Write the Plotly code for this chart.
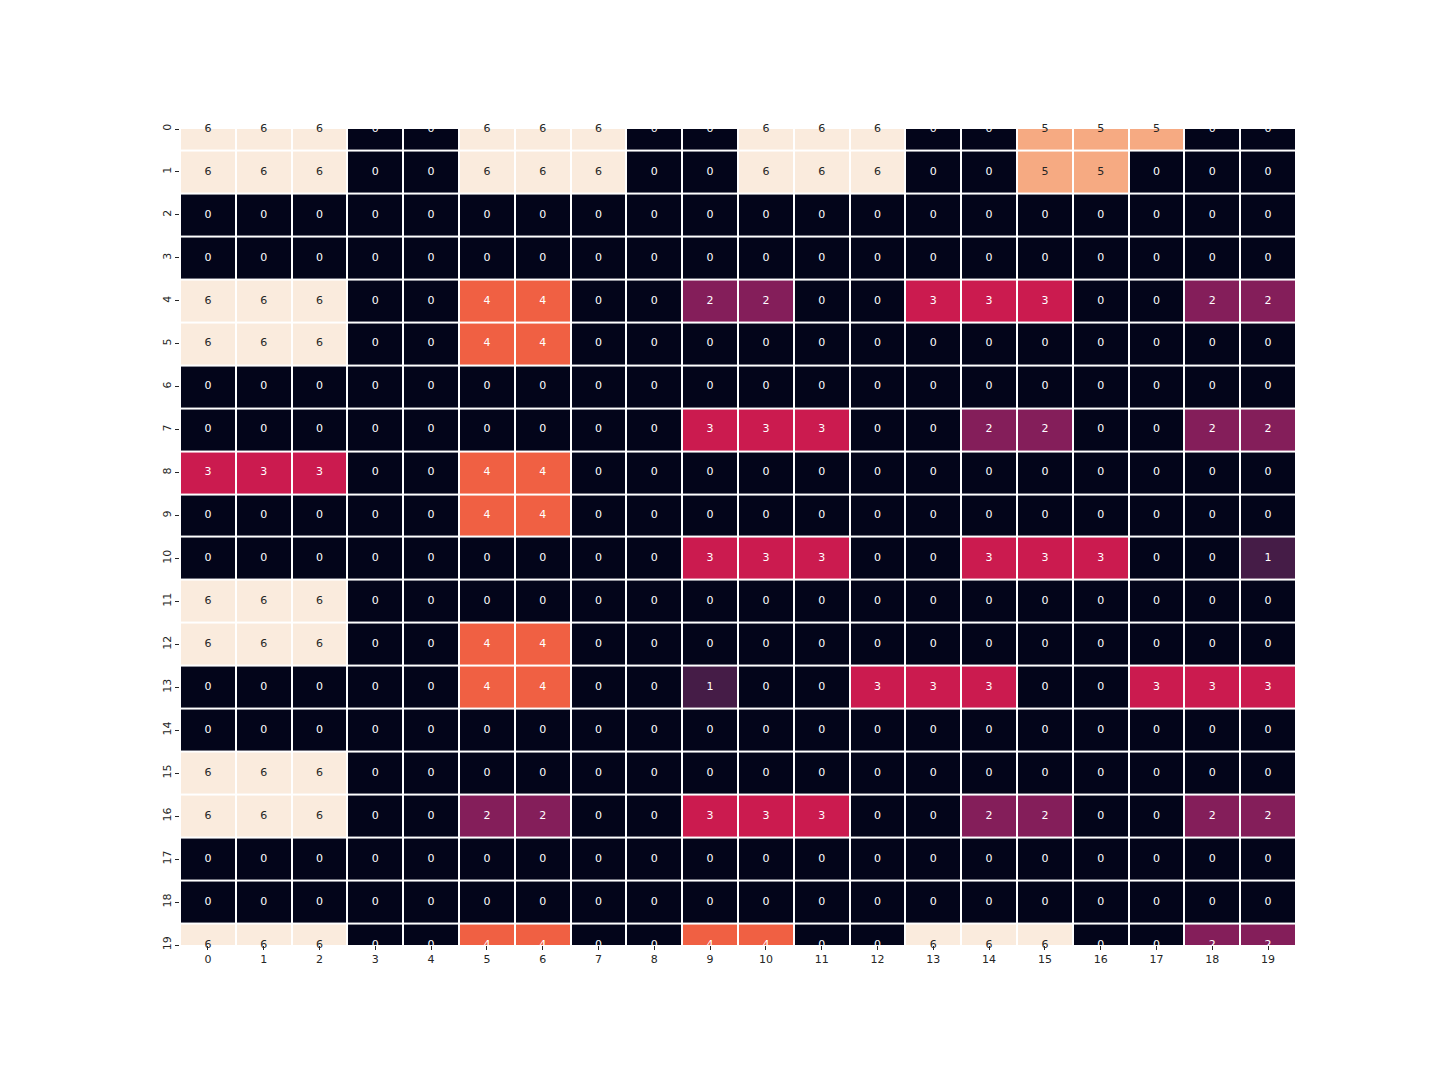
import plotly.graph_objects as go

rows = list(range(20))
cols = list(range(20))
values = [
    [6, 6, 6, 0, 0, 6, 6, 6, 0, 0, 6, 6, 6, 0, 0, 5, 5, 5, 0, 0],
    [6, 6, 6, 0, 0, 6, 6, 6, 0, 0, 6, 6, 6, 0, 0, 5, 5, 0, 0, 0],
    [0] * 20,
    [0] * 20,
    [6, 6, 6, 0, 0, 4, 4, 0, 0, 2, 2, 0, 0, 3, 3, 3, 0, 0, 2, 2],
    [6, 6, 6, 0, 0, 4, 4, 0, 0, 0, 0, 0, 0, 0, 0, 0, 0, 0, 0, 0],
    [0] * 20,
    [0, 0, 0, 0, 0, 0, 0, 0, 0, 3, 3, 3, 0, 0, 2, 2, 0, 0, 2, 2],
    [3, 3, 3, 0, 0, 4, 4, 0, 0, 0, 0, 0, 0, 0, 0, 0, 0, 0, 0, 0],
    [0, 0, 0, 0, 0, 4, 4, 0, 0, 0, 0, 0, 0, 0, 0, 0, 0, 0, 0, 0],
    [0, 0, 0, 0, 0, 0, 0, 0, 0, 3, 3, 3, 0, 0, 3, 3, 3, 0, 0, 1],
    [6, 6, 6, 0, 0, 0, 0, 0, 0, 0, 0, 0, 0, 0, 0, 0, 0, 0, 0, 0],
    [6, 6, 6, 0, 0, 4, 4, 0, 0, 0, 0, 0, 0, 0, 0, 0, 0, 0, 0, 0],
    [0, 0, 0, 0, 0, 4, 4, 0, 0, 1, 0, 0, 3, 3, 3, 0, 0, 3, 3, 3],
    [0] * 20,
    [6, 6, 6, 0, 0, 0, 0, 0, 0, 0, 0, 0, 0, 0, 0, 0, 0, 0, 0, 0],
    [6, 6, 6, 0, 0, 2, 2, 0, 0, 3, 3, 3, 0, 0, 2, 2, 0, 0, 2, 2],
    [0] * 20,
    [0] * 20,
    [6, 6, 6, 0, 0, 4, 4, 0, 0, 4, 4, 0, 0, 6, 6, 6, 0, 0, 2, 2],
]

# rocket colormap samples at 0..6
level_colors = ["#03051a", "#451c47", "#841e5a", "#cb1b4f", "#f06043", "#f6aa82", "#faebdd"]
colorscale = [[i / 6, c] for i, c in enumerate(level_colors)]

fig = go.Figure()
fig.add_trace(go.Heatmap(
    z=values, x=cols, y=rows,
    zmin=0, zmax=6, colorscale=colorscale, showscale=False,
    xgap=2, ygap=2, hoverinfo="skip",
))

tx, ty, tt, tc = [], [], [], []
for r in rows:
    for c in cols:
        v = values[r][c]
        tx.append(c)
        ty.append(r)
        tt.append(str(v))
        tc.append("#262626" if v >= 5 else "#ffffff")

fig.add_trace(go.Scatter(
    x=tx, y=ty, text=tt, mode="text",
    textfont=dict(family="DejaVu Sans", size=11, color=tc),
    textposition="middle center", cliponaxis=False, hoverinfo="skip",
    showlegend=False,
))

fig.update_layout(
    width=1440, height=1080,
    margin=dict(l=172, r=152, t=121, b=143, pad=0),
    paper_bgcolor="white", plot_bgcolor="white",
    font=dict(family="DejaVu Sans", size=11, color="#262626"),
    showlegend=False,
)
fig.update_xaxes(
    range=[-0.5, 19.5], tickmode="array", tickvals=cols, ticktext=[str(c) for c in cols],
    ticks="outside", ticklen=4, tickcolor="#262626", showgrid=False, zeroline=False,
    showline=False, tickfont=dict(size=11), side="bottom",
)
fig.update_yaxes(
    range=[19, 0], tickmode="array", tickvals=rows, ticktext=[str(r) for r in rows],
    ticks="outside", ticklen=4, tickcolor="#262626", showgrid=False, zeroline=False,
    showline=False, tickangle=-90, tickfont=dict(size=11),
)

fig.write_html("out.html")
